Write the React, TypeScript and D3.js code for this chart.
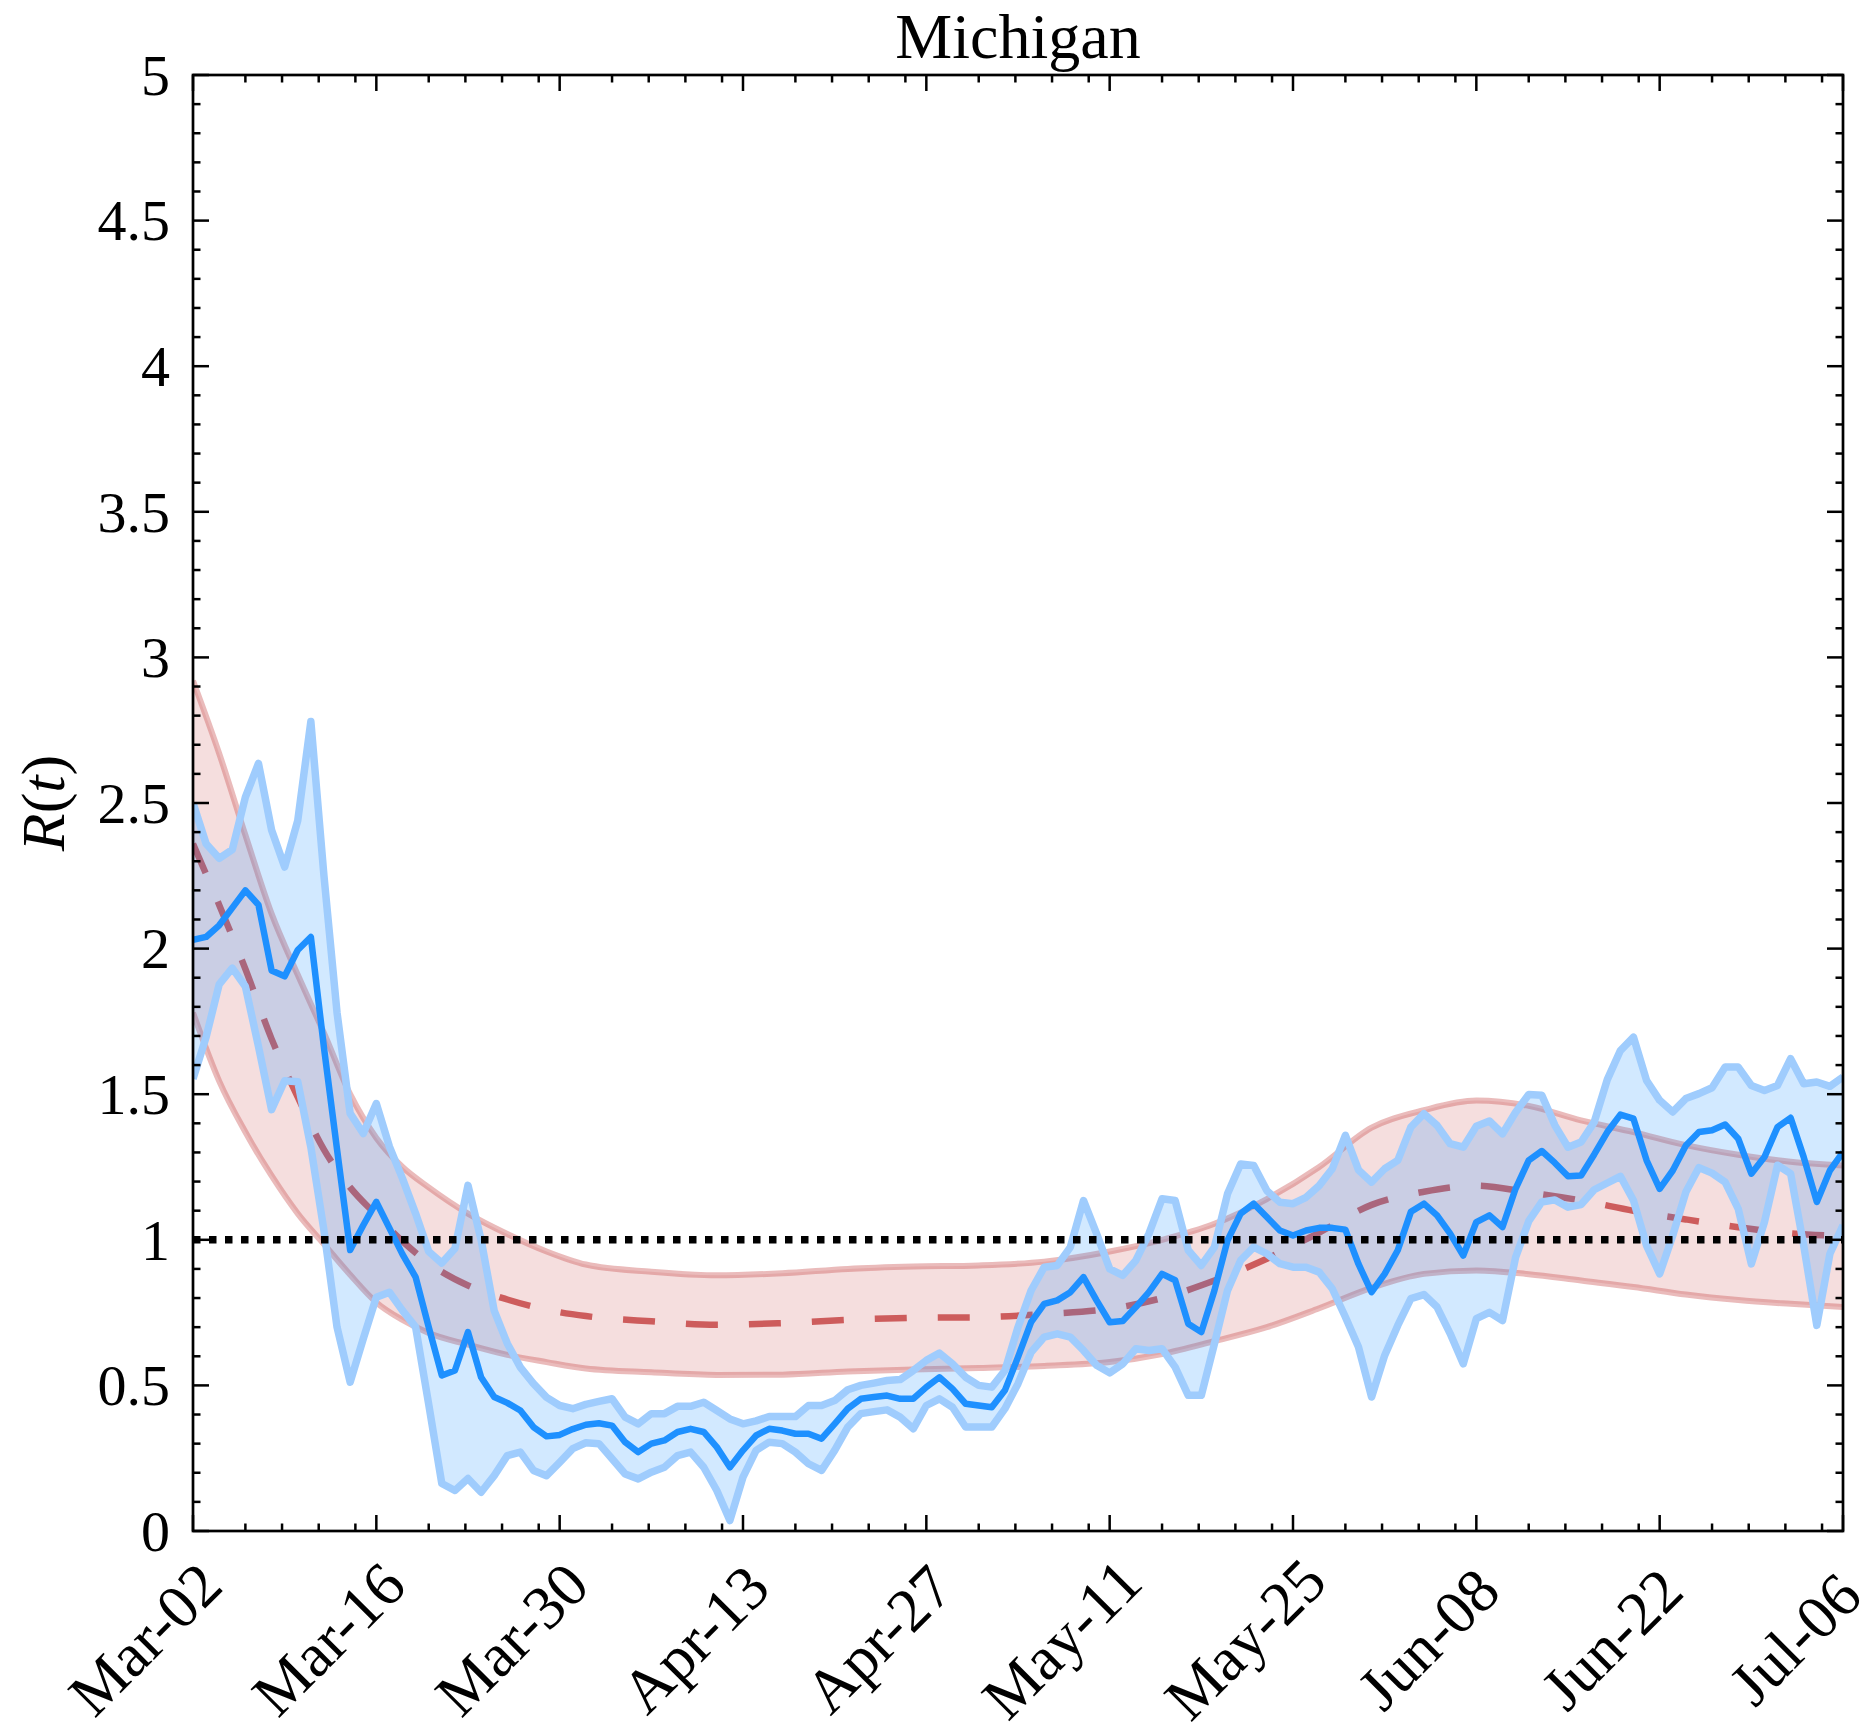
import React, { useEffect, useRef } from "react";
import * as d3 from "d3";

const title = "Michigan";

// major ticks every 14 days starting Mar-02
const dateLabels = [
  "Mar-02", "Mar-16", "Mar-30", "Apr-13", "Apr-27",
  "May-11", "May-25", "Jun-08", "Jun-22", "Jul-06",
];
const yTicks = [0, 0.5, 1, 1.5, 2, 2.5, 3, 3.5, 4, 4.5, 5];
const yTickLabels = ["0", "0.5", "1", "1.5", "2", "2.5", "3", "3.5", "4", "4.5", "5"];

// daily estimate (one value per day from Mar-02)
const blueMean = [
  2.03, 2.04, 2.08, 2.14, 2.2, 2.15, 1.925, 1.905, 1.995, 2.04,
  1.66, 1.31, 0.965, 1.05, 1.13, 1.04, 0.95, 0.872, 0.7, 0.534,
  0.551, 0.683, 0.528, 0.46, 0.44, 0.414, 0.357, 0.325, 0.33, 0.35,
  0.365, 0.37, 0.362, 0.305, 0.271, 0.3, 0.311, 0.34, 0.351, 0.34,
  0.288, 0.219, 0.277, 0.328, 0.351, 0.345, 0.334, 0.334, 0.317, 0.368,
  0.42, 0.454, 0.46, 0.465, 0.454, 0.454, 0.494, 0.528, 0.488, 0.437,
  0.431, 0.425, 0.483, 0.597, 0.717, 0.78, 0.792, 0.82, 0.872, 0.792,
  0.717, 0.721, 0.769, 0.82, 0.883, 0.861, 0.712, 0.683, 0.826, 0.998,
  1.09, 1.124, 1.078, 1.032, 1.015, 1.032, 1.041, 1.041, 1.035, 0.917,
  0.82, 0.883, 0.964, 1.096, 1.124, 1.084, 1.021, 0.946, 1.061, 1.084,
  1.044, 1.176, 1.273, 1.305, 1.264, 1.218, 1.221, 1.293, 1.37, 1.43,
  1.416, 1.273, 1.175, 1.238, 1.324, 1.37, 1.376, 1.396, 1.347, 1.227,
  1.284, 1.387, 1.419, 1.284, 1.13, 1.238, 1.301,
];
const blueUpper = [
  2.5, 2.36, 2.31, 2.34, 2.52, 2.636, 2.407, 2.28, 2.44, 2.78,
  2.25, 1.78, 1.434, 1.365, 1.468, 1.32, 1.21, 1.09, 0.96, 0.92,
  0.97, 1.187, 1.0, 0.757, 0.644, 0.562, 0.506, 0.459, 0.431, 0.42,
  0.435, 0.445, 0.454, 0.391, 0.368, 0.403, 0.403, 0.428, 0.428, 0.442,
  0.414, 0.385, 0.368, 0.378, 0.393, 0.393, 0.393, 0.431, 0.431, 0.448,
  0.485, 0.5, 0.508, 0.517, 0.52, 0.551, 0.586, 0.611, 0.574, 0.528,
  0.5, 0.494, 0.551, 0.7, 0.826, 0.906, 0.912, 0.975, 1.135, 1.021,
  0.9, 0.878, 0.929, 1.021, 1.141, 1.135, 0.964, 0.912, 0.975, 1.158,
  1.26, 1.255, 1.169, 1.129, 1.124, 1.146, 1.186, 1.244, 1.359, 1.24,
  1.198, 1.244, 1.273, 1.387, 1.433, 1.393, 1.33, 1.318, 1.39, 1.408,
  1.364, 1.438, 1.499, 1.496, 1.393, 1.318, 1.336, 1.404, 1.55, 1.65,
  1.696, 1.547, 1.479, 1.439, 1.485, 1.502, 1.522, 1.593, 1.593, 1.53,
  1.513, 1.53, 1.622, 1.536, 1.542, 1.527, 1.559,
];
const blueLower = [
  1.553, 1.696, 1.877, 1.933, 1.87, 1.664, 1.447, 1.546, 1.543, 1.318,
  1.032, 0.7, 0.511, 0.66, 0.803, 0.82, 0.757, 0.7, 0.435, 0.163,
  0.139, 0.18, 0.133, 0.19, 0.259, 0.271, 0.208, 0.19, 0.236, 0.283,
  0.303, 0.3, 0.248, 0.196, 0.179, 0.202, 0.219, 0.259, 0.271, 0.219,
  0.139, 0.036, 0.185, 0.277, 0.305, 0.3, 0.271, 0.231, 0.208, 0.277,
  0.357, 0.403, 0.41, 0.416, 0.391, 0.351, 0.431, 0.454, 0.425, 0.357,
  0.357, 0.357, 0.42, 0.506, 0.614, 0.666, 0.677, 0.666, 0.62, 0.569,
  0.543, 0.574, 0.626, 0.62, 0.626, 0.563, 0.466, 0.466, 0.643, 0.826,
  0.929, 0.975, 0.952, 0.918, 0.906, 0.906, 0.889, 0.832, 0.735, 0.632,
  0.46, 0.603, 0.706, 0.798, 0.812, 0.769, 0.678, 0.574, 0.729, 0.751,
  0.723, 0.94, 1.064, 1.13, 1.137, 1.112, 1.121, 1.172, 1.195, 1.218,
  1.135, 0.98, 0.883, 1.015, 1.164, 1.248, 1.229, 1.198, 1.106, 0.917,
  1.061, 1.256, 1.227, 0.98, 0.706, 0.952, 1.05,
];

// smooth model band, read at these day offsets
const redDays = [
  0, 2, 4, 6, 8, 10, 12, 14, 16, 18, 21, 24, 27, 30, 35, 40, 45, 50,
  55, 60, 65, 70, 74, 78, 82, 86, 90, 94, 98, 102, 106, 110, 114, 118, 122, 126,
];
const redUpper = [
  2.92, 2.67, 2.39, 2.12, 1.91, 1.71, 1.5, 1.35, 1.25, 1.18, 1.09, 1.02, 0.96, 0.915,
  0.89, 0.878, 0.885, 0.9, 0.908, 0.912, 0.925, 0.96, 1.0, 1.055, 1.14, 1.25,
  1.385, 1.445, 1.478, 1.46, 1.41, 1.37, 1.325, 1.292, 1.268, 1.255,
];
const redMean = [
  2.36, 2.15, 1.93, 1.69, 1.49, 1.31, 1.18, 1.085, 0.995, 0.92, 0.843, 0.795, 0.76, 0.738,
  0.72, 0.708, 0.714, 0.725, 0.732, 0.734, 0.745, 0.763, 0.8, 0.86, 0.935, 1.025,
  1.12, 1.165, 1.186, 1.163, 1.135, 1.1, 1.07, 1.043, 1.022, 1.013,
];
const redLower = [
  1.78, 1.545, 1.37, 1.22, 1.09, 0.985, 0.88, 0.785, 0.725, 0.68, 0.64, 0.605, 0.58, 0.558,
  0.545, 0.536, 0.537, 0.548, 0.555, 0.56, 0.567, 0.58, 0.608, 0.652, 0.7, 0.765,
  0.835, 0.883, 0.895, 0.882, 0.86, 0.838, 0.812, 0.793, 0.78, 0.769,
];

const threshold = 1;

const App: React.FC = () => {
  const svgRef = useRef<SVGSVGElement>(null);

  useEffect(() => {
    if (!svgRef.current) return;
    const width = 1875;
    const height = 1736;
    const margin = { top: 75, right: 32, bottom: 205, left: 193 };
    const font = "'Liberation Serif', 'DejaVu Serif', serif";

    const svg = d3.select(svgRef.current);
    svg.selectAll("*").remove();
    svg.attr("width", width).attr("height", height);

    const nDays = blueMean.length - 1;
    const x = d3
      .scaleLinear()
      .domain([0, nDays])
      .range([margin.left, width - margin.right]);
    const y = d3
      .scaleLinear()
      .domain([0, 5])
      .range([height - margin.bottom, margin.top]);

    const [x0, x1] = x.range();
    const [y0, y1] = y.range();

    svg
      .append("defs")
      .append("clipPath")
      .attr("id", "plot-clip")
      .append("rect")
      .attr("x", x0)
      .attr("y", y1)
      .attr("width", x1 - x0)
      .attr("height", y0 - y1);

    const g = svg.append("g").attr("clip-path", "url(#plot-clip)");

    const redIdx = d3.range(redDays.length);
    const dayIdx = d3.range(blueMean.length);

    // model band
    g.append("path")
      .datum(redIdx)
      .attr(
        "d",
        d3
          .area<number>()
          .x((i) => x(redDays[i]))
          .y0((i) => y(redLower[i]))
          .y1((i) => y(redUpper[i]))
          .curve(d3.curveMonotoneX)
      )
      .attr("fill", "rgba(205,92,92,0.2)");

    const redLine = (vals: number[]) =>
      d3
        .line<number>()
        .x((i) => x(redDays[i]))
        .y((i) => y(vals[i]))
        .curve(d3.curveMonotoneX)(redIdx);

    [redUpper, redLower].forEach((vals) => {
      g.append("path")
        .attr("d", redLine(vals))
        .attr("fill", "none")
        .attr("stroke", "rgba(205,92,92,0.42)")
        .attr("stroke-width", 6);
    });

    g.append("path")
      .attr("d", redLine(redMean))
      .attr("fill", "none")
      .attr("stroke", "#cd5c5c")
      .attr("stroke-width", 6.5)
      .attr("stroke-dasharray", "32 31");

    // estimate band
    g.append("path")
      .datum(dayIdx)
      .attr(
        "d",
        d3
          .area<number>()
          .x((i) => x(i))
          .y0((i) => y(blueLower[i]))
          .y1((i) => y(blueUpper[i]))
      )
      .attr("fill", "rgba(30,144,255,0.2)");

    const blueLine = (vals: number[]) =>
      d3
        .line<number>()
        .x((i) => x(i))
        .y((i) => y(vals[i]))(dayIdx);

    [blueUpper, blueLower].forEach((vals) => {
      g.append("path")
        .attr("d", blueLine(vals))
        .attr("fill", "none")
        .attr("stroke", "#9fccfd")
        .attr("stroke-width", 7.5)
        .attr("stroke-linejoin", "round");
    });

    g.append("path")
      .attr("d", blueLine(blueMean))
      .attr("fill", "none")
      .attr("stroke", "#1e90ff")
      .attr("stroke-width", 6.5)
      .attr("stroke-linejoin", "round");

    g.append("line")
      .attr("x1", x0)
      .attr("x2", x1)
      .attr("y1", y(threshold))
      .attr("y2", y(threshold))
      .attr("stroke", "#000")
      .attr("stroke-width", 7.5)
      .attr("stroke-dasharray", "7.5 8.5");

    // frame
    svg
      .append("rect")
      .attr("x", x0)
      .attr("y", y1)
      .attr("width", x1 - x0)
      .attr("height", y0 - y1)
      .attr("fill", "none")
      .attr("stroke", "#000")
      .attr("stroke-width", 2.7);

    const ticks = svg.append("g").attr("stroke", "#000").attr("stroke-width", 2.5);
    const majorLen = 16;
    const minorLen = 7.5;

    // x ticks, top and bottom
    const xMajor = dateLabels.map((_, k) => k * 14);
    const xMinor: number[] = [];
    xMajor.forEach((m) => {
      [4, 6.8, 9.6, 12.4].forEach((o) => {
        if (m + o < nDays) xMinor.push(m + o);
      });
    });
    const vTick = (d: number, len: number) => {
      ticks.append("line").attr("x1", x(d)).attr("x2", x(d)).attr("y1", y0).attr("y2", y0 - len);
      ticks.append("line").attr("x1", x(d)).attr("x2", x(d)).attr("y1", y1).attr("y2", y1 + len);
    };
    xMajor.forEach((d) => vTick(d, majorLen));
    xMinor.forEach((d) => vTick(d, minorLen));

    // y ticks, left and right
    const hTick = (v: number, len: number) => {
      ticks.append("line").attr("x1", x0).attr("x2", x0 + len).attr("y1", y(v)).attr("y2", y(v));
      ticks.append("line").attr("x1", x1).attr("x2", x1 - len).attr("y1", y(v)).attr("y2", y(v));
    };
    yTicks.forEach((v) => hTick(v, majorLen));
    d3.range(0, 50)
      .map((k) => k / 10)
      .filter((v) => Math.round(v * 10) % 5 !== 0)
      .forEach((v) => hTick(v, minorLen));

    // y tick labels
    yTicks.forEach((v, i) => {
      svg
        .append("text")
        .attr("x", x0 - 23)
        .attr("y", y(v))
        .attr("dy", "0.34em")
        .attr("text-anchor", "end")
        .attr("font-family", font)
        .attr("font-size", 58)
        .attr("fill", "#000")
        .text(yTickLabels[i]);
    });

    // x tick labels, rotated
    dateLabels.forEach((lab, k) => {
      const cx = x(xMajor[k]) - 48;
      const cy = y0 + 108;
      svg
        .append("text")
        .attr("transform", `translate(${cx},${cy}) rotate(-45)`)
        .attr("text-anchor", "middle")
        .attr("dy", "0.34em")
        .attr("font-family", font)
        .attr("font-size", 62)
        .attr("fill", "#000")
        .text(lab);
    });

    // axis label
    const yl = svg
      .append("text")
      .attr("transform", `translate(64,${(y0 + y1) / 2}) rotate(-90)`)
      .attr("text-anchor", "middle")
      .attr("font-family", font)
      .attr("font-size", 62)
      .attr("fill", "#000");
    yl.append("tspan").attr("font-style", "italic").text("R");
    yl.append("tspan").text("(");
    yl.append("tspan").attr("font-style", "italic").text("t");
    yl.append("tspan").text(")");

    // title
    svg
      .append("text")
      .attr("x", (x0 + x1) / 2)
      .attr("y", 58)
      .attr("text-anchor", "middle")
      .attr("font-family", font)
      .attr("font-size", 64)
      .attr("fill", "#000")
      .text(title);
  }, []);

  return (
    <svg
      ref={svgRef}
      style={{ position: "absolute", left: 0, top: 0, background: "#fff" }}
    ></svg>
  );
};

export default App;
